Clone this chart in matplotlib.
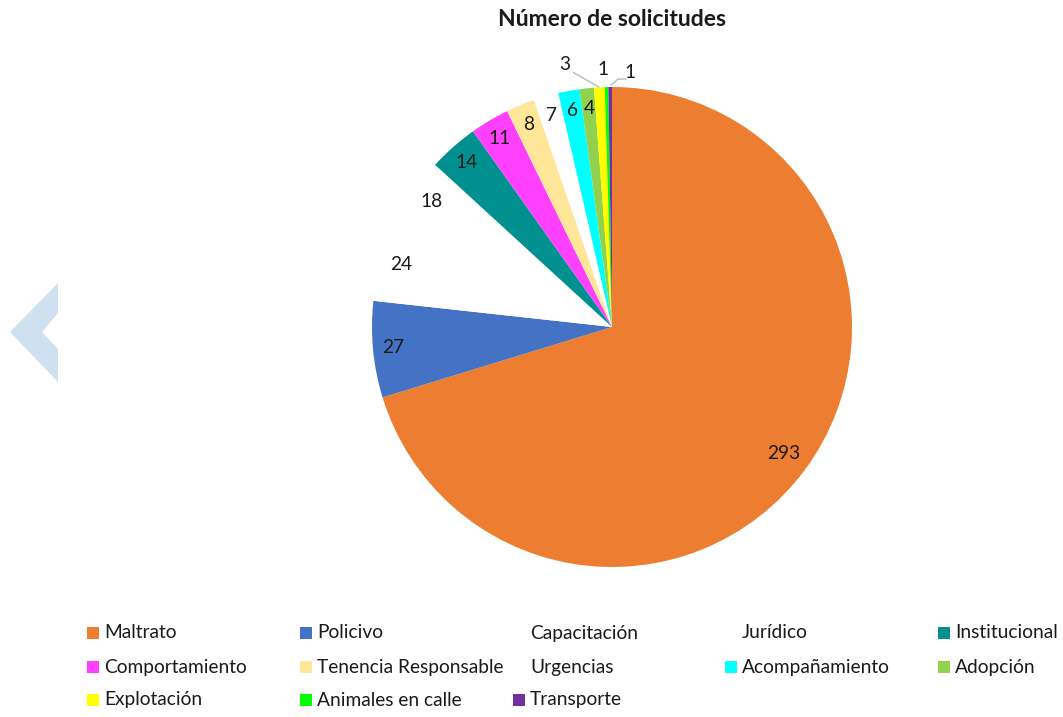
import numpy as np
import matplotlib
matplotlib.use("Agg")
import matplotlib.pyplot as plt
from matplotlib.patches import Polygon, Rectangle

plt.rcParams['font.family'] = ['Lato', 'DejaVu Sans']

categorias = ['Maltrato', 'Policivo', 'Capacitación', 'Jurídico', 'Institucional',
              'Comportamiento', 'Tenencia Responsable', 'Urgencias', 'Acompañamiento',
              'Adopción', 'Explotación', 'Animales en calle', 'Transporte']
solicitudes = [293, 27, 24, 18, 14, 11, 8, 7, 6, 4, 3, 1, 1]
colores = ['#ED7D31', '#4472C4', '#FFFFFF', '#FFFFFF', '#009090',
           '#FF40FF', '#FFE699', '#FFFFFF', '#00FFFF',
           '#92D050', '#FFFF00', '#00FF00', '#7030A0']

W, H = 1063, 717
fig = plt.figure(figsize=(W / 100, H / 100), dpi=100)

# pie centre at (612, 327) px, radius 240 px
cx, cy, r = 612, 327, 240
ax = fig.add_axes([(cx - r) / W, (H - cy - r) / H, 2 * r / W, 2 * r / H])
wedges, _ = ax.pie(solicitudes, colors=colores, startangle=90, counterclock=False,
                   radius=1, wedgeprops=dict(linewidth=0))
ax.set_xlim(-1, 1)
ax.set_ylim(-1, 1)
ax.axis('off')

# data labels, the three smallest go outside with leader lines
fuera = {10: (-0.196, 1.092), 11: (-0.0375, 1.071), 12: (0.075, 1.0625)}
for i, w in enumerate(wedges):
    if i in fuera:
        x, y = fuera[i]
    else:
        ang = np.deg2rad((w.theta1 + w.theta2) / 2)
        d = 0.89 if i == 0 else 0.915
        x, y = d * np.cos(ang), d * np.sin(ang)
    ax.text(x, y, str(solicitudes[i]), ha='center', va='center', fontsize=13.75,
            color='#1a1a1a', clip_on=False)

ax.plot([-0.16, -0.055], [1.06, 1.0], color='#A9B6C8', lw=0.9, clip_on=False)
ax.plot([-0.004, 0.025, 0.058], [1.008, 1.033, 1.033], color='#A9B6C8', lw=0.9,
        clip_on=False)

fig.text(612 / W, 1 - 19 / H, 'Número de solicitudes', ha='center', va='center',
         fontsize=16.5, fontweight='bold', color='#1a1a1a')

# legend, laid out row by row like the original
col_x = [104, 317, 530, 742, 955]
row_y = [633, 667, 700]
for i, (nombre, c) in enumerate(zip(categorias, colores)):
    fila, col = divmod(i, 5)
    tx, ty = col_x[col], row_y[fila]
    fig.patches.append(Rectangle(((tx - 17) / W, 1 - (ty + 6) / H), 12 / W, 12 / H,
                                 transform=fig.transFigure, facecolor=c,
                                 edgecolor='none'))
    fig.text(tx / W, 1 - ty / H, nombre, ha='left', va='center', fontsize=13.75,
             color='#1a1a1a')

# navigation chevron on the left edge
chevron = [(58, 283), (10, 332), (58, 382), (58, 349), (42, 332), (58, 313)]
fig.patches.append(Polygon([(px / W, 1 - py / H) for px, py in chevron],
                           transform=fig.transFigure, facecolor='#CFE0F1',
                           edgecolor='none'))

fig.savefig('out.png', dpi=100)
